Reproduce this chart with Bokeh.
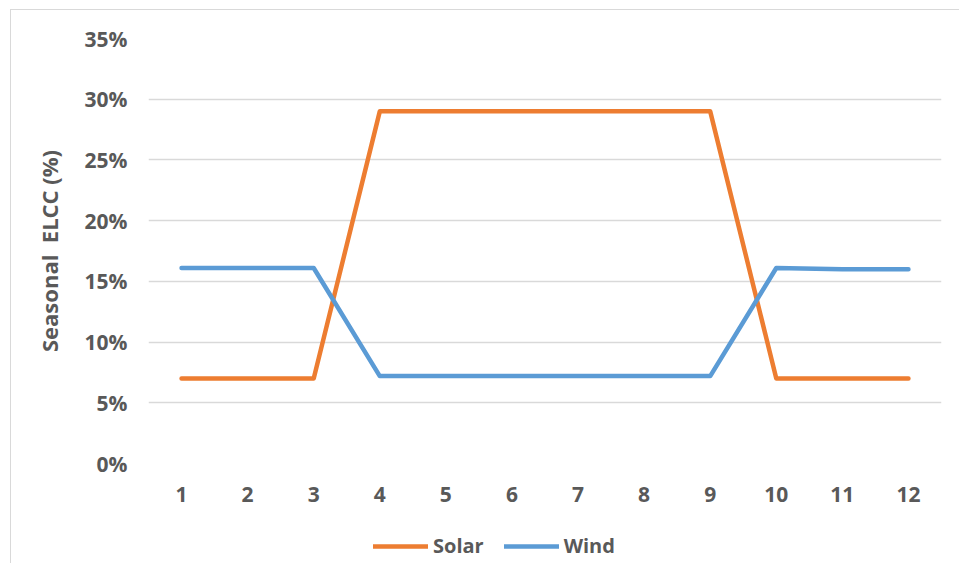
from bokeh.plotting import figure
from bokeh.layouts import column
from bokeh.models import FactorRange, Range1d, NumeralTickFormatter, Legend, LegendItem, FixedTicker, ColumnDataSource
from bokeh.embed import file_html
from bokeh.resources import INLINE

months = [str(i) for i in range(1, 13)]
solar = [0.07, 0.07, 0.07, 0.29, 0.29, 0.29, 0.29, 0.29, 0.29, 0.07, 0.07, 0.07]
wind = [0.161, 0.161, 0.161, 0.072, 0.072, 0.072, 0.072, 0.072, 0.072, 0.161, 0.160, 0.160]
y_ticks = [0.0, 0.05, 0.10, 0.15, 0.20, 0.25, 0.30, 0.35]
series_names = ["Solar", "Wind"]
series_keys = ["solar", "wind"]
series_colors = ["#ED7D31", "#5B9BD5"]

FONT = "Open Sans"
TXT = "#595959"

p = figure(x_range=FactorRange(factors=months, range_padding=0),
           y_range=Range1d(0, 0.35),
           width=948, height=513,
           output_backend="svg", toolbar_location=None)
p.min_border_left = 137
p.min_border_top = 28
p.min_border_right = 18
p.min_border_bottom = 60
p.outline_line_color = None

src = ColumnDataSource(dict(x=months, solar=solar, wind=wind))
for key, col in zip(series_keys, series_colors):
    p.line("x", key, source=src, line_color=col, line_width=4.5,
           line_join="round", line_cap="round")

p.xgrid.grid_line_color = None
p.ygrid.grid_line_color = "#D9D9D9"
p.ygrid.grid_line_width = 1.3
p.yaxis.ticker = FixedTicker(ticks=y_ticks)
p.yaxis.formatter = NumeralTickFormatter(format="0%")

for ax in (p.xaxis, p.yaxis):
    ax.axis_line_color = None
    ax.major_tick_line_color = None
    ax.minor_tick_line_color = None
    ax.major_tick_out = 0
    ax.major_tick_in = 0
    ax.major_label_text_font = FONT
    ax.major_label_text_font_style = "bold"
    ax.major_label_text_font_size = "21px"
    ax.major_label_text_color = TXT

p.xaxis.major_label_standoff = 23
p.yaxis.major_label_standoff = 21
p.xaxis.group_text_font_size = "0px"

p.yaxis.axis_label = "Seasonal\u00a0 ELCC (%)"
p.yaxis.axis_label_text_font = FONT
p.yaxis.axis_label_text_font_style = "bold"
p.yaxis.axis_label_text_font_size = "22px"
p.yaxis.axis_label_text_color = TXT
p.yaxis.axis_label_standoff = 18

# legend strip below the chart (same series, drawn outside its visible y range)
lg = figure(width=948, height=40, x_range=FactorRange(factors=months, range_padding=0),
            y_range=Range1d(10, 11),
            x_axis_type=None, y_axis_type=None,
            output_backend="svg", toolbar_location=None)
lg.min_border = 0
lg.outline_line_color = None
lg.xgrid.visible = False
lg.ygrid.visible = False
items = []
for name, key, col in zip(series_names, series_keys, series_colors):
    r = lg.line("x", key, source=src, line_color=col, line_width=4.5, line_cap="round")
    items.append(LegendItem(label=name, renderers=[r]))

legend = Legend(items=items, orientation="horizontal", location=(225, 4))
legend.label_text_font = FONT
legend.label_text_font_style = "bold"
legend.label_text_font_size = "20px"
legend.label_text_color = TXT
legend.glyph_width = 55
legend.glyph_height = 20
legend.label_standoff = 5
legend.spacing = 20
legend.padding = 0
legend.margin = 0
legend.border_line_color = None
legend.background_fill_alpha = 0
lg.add_layout(legend, "center")

layout = column(p, lg, spacing=0)
layout.styles = {"border-top": "1px solid #D9D9D9", "border-left": "1px solid #D9D9D9",
                 "margin-left": "10px", "margin-top": "9px"}

open("out.html", "w").write(file_html(layout, INLINE))
